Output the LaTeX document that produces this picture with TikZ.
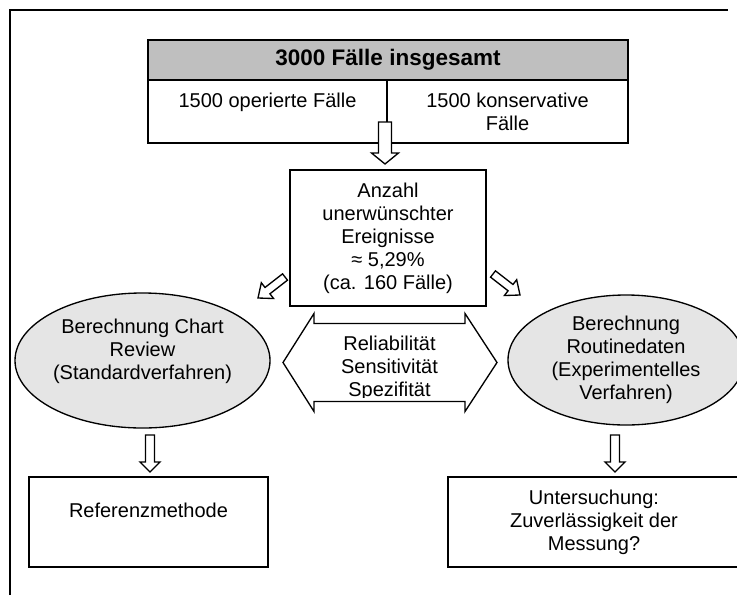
\documentclass[tikz,border=0pt]{standalone}
\usepackage{fontspec}
\setmainfont{Liberation Sans}
\usetikzlibrary{calc,shapes.geometric}
\begin{document}
\begin{tikzpicture}[x=0.6pt,y=-0.6pt,
		font=\fontsize{12}{13.8}\selectfont,
		box/.style={draw,line width=1.1pt,inner sep=0pt,align=center},
		oval/.style={ellipse,draw,line width=0.8pt,fill=gray!20,inner sep=0pt,align=center},
		blk/.style={draw,line width=0.8pt,fill=white,line join=miter},
		blockarr/.style n args={3}{to path={
			($(\tikztotarget)!#3!(\tikztostart)$) coordinate (bbase)
			($(\tikztostart)!#1!90:(\tikztotarget)$)
			-- ($(bbase)!#1!-90:(\tikztostart)$) -- ($(bbase)!#2!-90:(\tikztostart)$)
			-- (\tikztotarget)
			-- ($(bbase)!#2!90:(\tikztostart)$) -- ($(bbase)!#1!90:(\tikztostart)$)
			-- ($(\tikztostart)!#1!-90:(\tikztotarget)$) -- cycle}}]
		\useasboundingbox (0,0) rectangle (737,595);
		\draw[line width=1.1pt] (10,595) -- (10,10) -- (728,10);
		% Kopf
		\node[box,fill=gray!50,minimum width=288pt,minimum height=24pt,font=\fontsize{13.5}{16}\selectfont\bfseries] (total) at (388,60) {3000 Fälle insgesamt};
		\node[box,minimum width=143.4pt,minimum height=37.8pt] (op) at (267.5,111.5) {1500 operierte Fälle\\\mbox{}};
		\node[box,minimum width=144.6pt,minimum height=37.8pt] (kons) at (507.5,111.5) {1500 konservative\\Fälle};
		\node[box,minimum width=117.6pt,minimum height=81.6pt] (count) at (388,238) {Anzahl\\unerwünschter\\Ereignisse\\≈ 5,29\%\\(ca. 160 Fälle)};
		% Verfahren
		\node[oval,minimum width=153pt,minimum height=81pt] (chart) at (142.5,360.5) {Berechnung Chart\\Review\\(Standardverfahren)\\\mbox{}};
		\node[oval,minimum width=141.6pt,minimum height=78pt] (routine) at (626,360) {Berechnung\\Routinedaten\\(Experimentelles\\Verfahren)};
		\node[box,minimum width=143.4pt,minimum height=54pt] (ref) at (148.5,522) {Referenzmethode\\\mbox{}};
		\node[box,minimum width=175.2pt,minimum height=54pt] (test) at (594,522) {Untersuchung:\\Zuverlässigkeit der\\Messung?};
		% Doppelpfeil
		\draw[blk] (283,362.5) -- (314,313.5) -- (314,323.5) -- (465,323.5) -- (465,313.5) -- (497,362.5)
			-- (465,411.5) -- (465,401.5) -- (314,401.5) -- (314,411.5) -- cycle;
		\begin{scope}
			\clip (315,324.5) rectangle (464,397.5);
			\node[align=center] (measures) at (389.5,368) {Reliabilität\\Sensitivität\\Spezifität};
		\end{scope}
		% Blockpfeile
		\coordinate (c1a) at (385,122);
		\coordinate (c1b) at (385,164);
		\coordinate (c2a) at (285,277);
		\coordinate (c2b) at (258,298);
		\coordinate (c3a) at (493,274);
		\coordinate (c3b) at (520,295);
		\coordinate (c4a) at (150,435);
		\coordinate (c4b) at (150,472);
		\coordinate (c5a) at (615,435);
		\coordinate (c5b) at (615,472);
		\draw[blk] (c1a) to[blockarr={3.9pt}{8.1pt}{6.6pt}] (c1b);
		\draw[blk] (c2a) to[blockarr={2.4pt}{6pt}{7.2pt}] (c2b);
		\draw[blk] (c3a) to[blockarr={2.4pt}{6pt}{7.2pt}] (c3b);
		\draw[blk] (c4a) to[blockarr={2.7pt}{6pt}{6pt}] (c4b);
		\draw[blk] (c5a) to[blockarr={2.7pt}{6pt}{6pt}] (c5b);
	\end{tikzpicture}
\end{document}
